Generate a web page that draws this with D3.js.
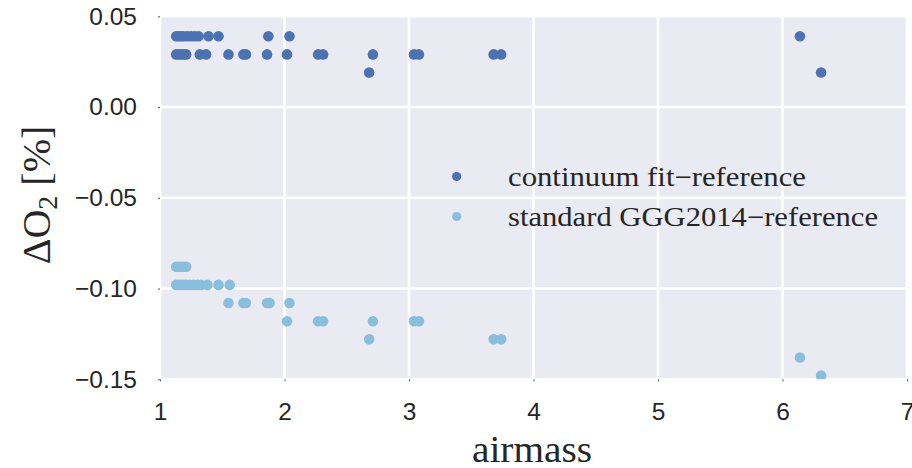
<!DOCTYPE html>
<html>
<head>
<meta charset="utf-8">
<script src="https://cdn.jsdelivr.net/npm/d3@7"></script>
<style>
  html, body { margin: 0; padding: 0; background: #ffffff; }
  svg { display: block; }
</style>
</head>
<body>
<svg id="chart" width="912" height="468"></svg>
<script>
// ---- data ----
const contX = [1.13,1.15,1.17,1.19,1.22,1.25,1.28,1.31,1.39,1.47,1.87,2.04,6.14,
               1.13,1.15,1.17,1.19,1.21,1.32,1.37,1.55,1.67,1.69,1.86,2.02,2.27,2.31,2.71,3.04,3.08,3.68,3.74,
               2.68,6.31];
const contY = [0.039,0.039,0.039,0.039,0.039,0.039,0.039,0.039,0.039,0.039,0.039,0.039,0.039,
               0.029,0.029,0.029,0.029,0.029,0.029,0.029,0.029,0.029,0.029,0.029,0.029,0.029,0.029,0.029,0.029,0.029,0.029,0.029,
               0.019,0.019];
const stdX = [1.13,1.15,1.17,1.19,1.21,
              1.13,1.15,1.17,1.19,1.21,1.24,1.27,1.30,1.33,1.38,1.47,1.56,
              1.55,1.67,1.69,1.86,1.88,2.04,
              2.02,2.27,2.31,2.71,3.04,3.08,
              2.68,3.68,3.74,
              6.14,
              6.31];
const stdY = [-0.088,-0.088,-0.088,-0.088,-0.088,
              -0.098,-0.098,-0.098,-0.098,-0.098,-0.098,-0.098,-0.098,-0.098,-0.098,-0.098,-0.098,
              -0.108,-0.108,-0.108,-0.108,-0.108,-0.108,
              -0.118,-0.118,-0.118,-0.118,-0.118,-0.118,
              -0.128,-0.128,-0.128,
              -0.138,
              -0.148];
const seriesNames = ["continuum fit\u2212reference", "standard GGG2014\u2212reference"];
const seriesColors = ["#4c72b0", "#89bedc"];
const xTicks = [1, 2, 3, 4, 5, 6, 7];
const yTicks = [0.05, 0.00, -0.05, -0.10, -0.15];
const xLabel = "airmass";

// ---- layout ----
const svg = d3.select("#chart");
const x = d3.scaleLinear().domain([1, 7]).range([160, 907]);
const y = d3.scaleLinear().domain([-0.15, 0.05]).range([379.3, 16.3]);

const tickFont = "'Liberation Sans', Arial, Helvetica, sans-serif";
const serif = "'Liberation Serif', 'Times New Roman', serif";

// background
svg.append("rect")
  .attr("x", x(1)).attr("y", y(0.05))
  .attr("width", x(7) - x(1) + 1).attr("height", y(-0.15) - y(0.05))
  .attr("fill", "#eaeaf2");

svg.append("defs").append("clipPath").attr("id", "clip")
  .append("rect")
  .attr("x", x(1)).attr("y", y(0.05))
  .attr("width", x(7) - x(1) + 1).attr("height", y(-0.15) - y(0.05));

// grid
const grid = svg.append("g");
grid.selectAll("line.gx").data(xTicks).join("line")
  .attr("x1", d => x(d)).attr("x2", d => x(d))
  .attr("y1", y(0.05)).attr("y2", y(-0.15))
  .attr("stroke", "#ffffff").attr("stroke-width", 2.6);
grid.selectAll("line.gy").data(yTicks).join("line")
  .attr("x1", x(1)).attr("x2", x(7) + 1)
  .attr("y1", d => y(d)).attr("y2", d => y(d))
  .attr("stroke", "#ffffff").attr("stroke-width", 2.6);

// axes (tiny ticks, no domain line)
const xAxis = d3.axisBottom(x).tickValues(xTicks).tickFormat(d3.format("d"))
  .tickSizeInner(2).tickSizeOuter(0).tickPadding(21.5);
const gx = svg.append("g").attr("transform", `translate(0,${y(-0.15)})`).call(xAxis);
gx.select(".domain").remove();
gx.selectAll(".tick line").attr("stroke", "#262626").attr("stroke-width", 0.8);
gx.selectAll(".tick text").attr("font-family", tickFont).attr("font-size", 24.5)
  .attr("fill", "#262626");

const yFmt = d => (d < 0 ? "\u2212" : "") + d3.format(".2f")(Math.abs(d));
const yAxis = d3.axisLeft(y).tickValues(yTicks).tickFormat(yFmt)
  .tickSizeInner(2).tickSizeOuter(0).tickPadding(21);
const gy = svg.append("g").attr("transform", `translate(${x(1)},0)`).call(yAxis);
gy.select(".domain").remove();
gy.selectAll(".tick line").attr("stroke", "#262626").attr("stroke-width", 0.8);
gy.selectAll(".tick text").attr("font-family", tickFont).attr("font-size", 24.5)
  .attr("fill", "#262626");

// points
const pts = svg.append("g").attr("clip-path", "url(#clip)");
const contData = contX.map((v, i) => ({x: v, y: contY[i]}));
const stdData = stdX.map((v, i) => ({x: v, y: stdY[i]}));
pts.selectAll("circle.c").data(contData).join("circle")
  .attr("cx", d => x(d.x)).attr("cy", d => y(d.y)).attr("r", 5.3)
  .attr("fill", seriesColors[0]);
pts.selectAll("circle.s").data(stdData).join("circle")
  .attr("cx", d => x(d.x)).attr("cy", d => y(d.y)).attr("r", 5.3)
  .attr("fill", seriesColors[1]);

// legend
const legendLen = [298, 370];
const leg = svg.append("g");
seriesNames.forEach((name, i) => {
  const cy = 176.5 + i * 40;
  leg.append("circle").attr("cx", 456.7).attr("cy", cy).attr("r", 4.6).attr("fill", seriesColors[i]);
  leg.append("text").attr("x", 508).attr("y", cy + 9.6)
    .attr("font-family", serif).attr("font-size", 27).attr("fill", "#262626")
    .attr("textLength", legendLen[i]).attr("lengthAdjust", "spacingAndGlyphs")
    .text(name);
});

// x label
svg.append("text").attr("x", 472).attr("y", 462)
  .attr("font-family", serif).attr("font-size", 37).attr("fill", "#262626")
  .attr("textLength", 120).attr("lengthAdjust", "spacingAndGlyphs")
  .text(xLabel);

// y label  ΔO2 [%]
const yl = svg.append("text")
  .attr("transform", "translate(50,195) rotate(-90)")
  .attr("text-anchor", "middle")
  .attr("font-family", serif).attr("font-size", 40).attr("fill", "#262626");
yl.append("tspan").text("\u0394O");
yl.append("tspan").attr("font-size", 28).attr("dy", 7).text("2");
yl.append("tspan").attr("dy", -7).text(" [%]");
</script>
</body>
</html>
